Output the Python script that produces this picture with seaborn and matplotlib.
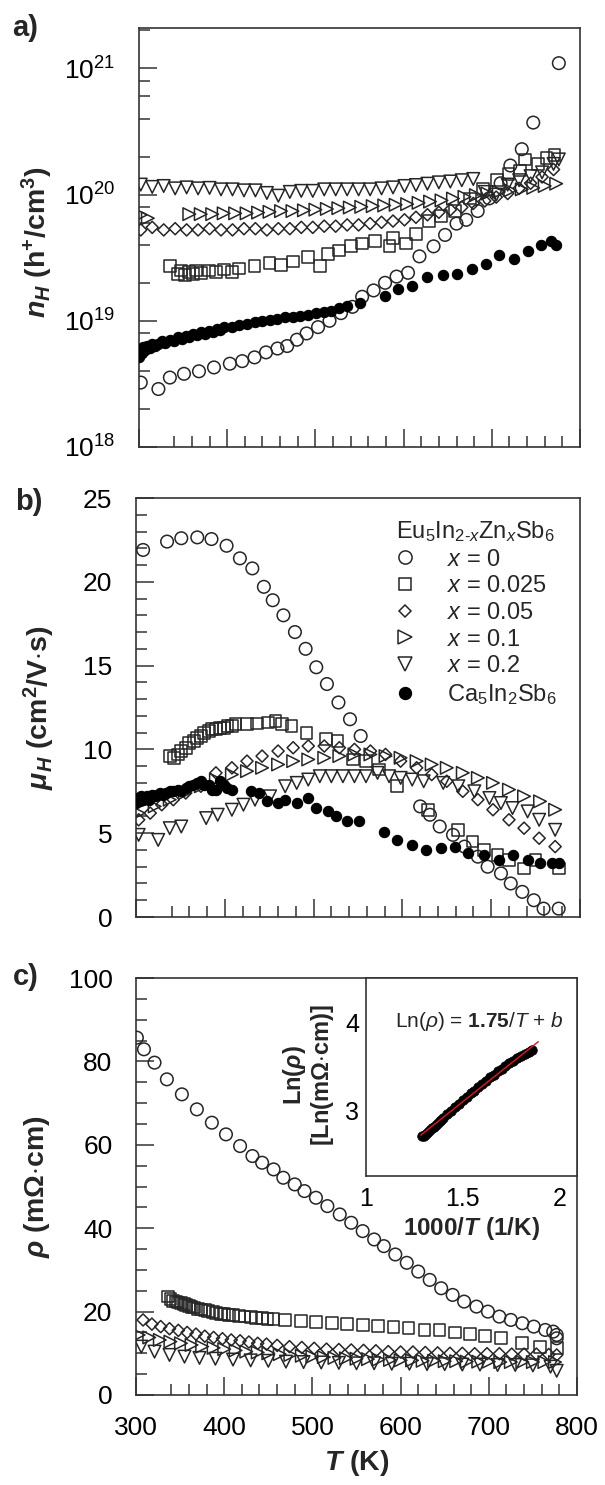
import numpy as np
import pandas as pd
import matplotlib
matplotlib.use("Agg")
import matplotlib.pyplot as plt
from matplotlib.lines import Line2D
from matplotlib.ticker import FixedLocator, LogLocator, NullFormatter, MultipleLocator, FuncFormatter
import seaborn as sns

# ---------------- data: panel a (carrier concentration, h+/cm^3) ----------------
a_T_x0 = [302, 322, 335, 351, 368, 385, 403, 417, 431, 444, 457, 468, 479, 490, 503, 516, 529, 542, 553, 566,
          579, 592, 605, 618, 634, 647, 660, 671, 684, 697, 710, 721, 734, 747, 776]
a_n_x0 = [3.24e18, 2.88e18, 3.55e18, 3.8e18, 3.98e18, 4.27e18, 4.57e18, 4.79e18, 5.13e18, 5.62e18,
          6.03e18, 6.31e18, 7.08e18, 7.94e18, 8.91e18, 1.0e19, 1.15e19, 1.29e19, 1.55e19, 1.74e19,
          2.0e19, 2.24e19, 2.4e19, 3.24e19, 3.89e19, 4.79e19, 5.89e19, 6.31e19, 7.41e19, 9.33e19,
          1.23e20, 1.7e20, 2.29e20, 3.72e20, 1.1e21]

a_T_x025 = [335, 344, 348, 352, 357, 361, 365, 370, 379, 387, 396, 405, 413, 431, 448, 461, 475, 492, 505, 514,
            527, 540, 553, 568, 584, 588, 603, 614, 629, 642, 658, 675, 690, 706, 719, 732, 738, 752, 762, 771]
a_n_x025 = [2.7e19, 2.35e19, 2.5e19, 2.3e19, 2.45e19, 2.35e19, 2.5e19, 2.4e19, 2.5e19, 2.45e19,
            2.55e19, 2.45e19, 2.6e19, 2.7e19, 2.85e19, 2.75e19, 2.95e19, 3.2e19, 2.7e19, 3.4e19,
            3.6e19, 3.9e19, 4.1e19, 4.3e19, 3.9e19, 4.5e19, 4.1e19, 4.9e19, 6.2e19, 6.8e19,
            7.4e19, 9.3e19, 1.1e20, 1.3e20, 1.45e20, 1.55e20, 1.9e20, 1.75e20, 1.95e20, 2.05e20]

a_T_x05 = [302, 315, 328, 341, 354, 367, 380, 393, 406, 419, 432, 445, 458, 471, 484, 497, 510, 523, 536, 549,
           562, 575, 588, 601, 614, 627, 640, 653, 666, 679, 692, 705, 718, 731, 744, 757, 770]
a_n_x05 = [5.25e19, 5.5e19, 5.25e19, 5.37e19, 5.25e19, 5.25e19, 5.37e19, 5.25e19, 5.25e19, 5.37e19,
           5.37e19, 5.25e19, 5.37e19, 5.37e19, 5.5e19, 5.5e19, 5.62e19, 5.62e19, 5.75e19, 5.75e19,
           5.89e19, 6.03e19, 6.17e19, 6.31e19, 6.61e19, 6.92e19, 7.24e19, 7.59e19, 7.94e19, 8.51e19,
           8.91e19, 9.55e19, 1.02e20, 1.12e20, 1.23e20, 1.38e20, 1.58e20]

a_T_x1 = [302, 310, 357, 370, 383, 396, 409, 422, 435, 448, 461, 474, 487, 500, 513, 526, 539, 552, 565, 578,
          591, 604, 617, 630, 643, 656, 669, 682, 695, 708, 721, 734, 747, 760, 773]
a_n_x1 = [6.9e19, 6.5e19, 7.0e19, 7.0e19, 7.0e19, 7.1e19, 7.1e19, 7.1e19, 7.2e19, 7.3e19,
          7.4e19, 7.4e19, 7.5e19, 7.6e19, 7.7e19, 7.8e19, 7.9e19, 8.0e19, 8.1e19, 8.2e19,
          8.3e19, 8.4e19, 8.6e19, 8.8e19, 9.0e19, 9.3e19, 9.6e19, 9.9e19, 1.02e20, 1.05e20,
          1.08e20, 1.1e20, 1.13e20, 1.17e20, 1.22e20]

a_T_x2 = [302, 315, 328, 341, 354, 367, 380, 393, 406, 419, 432, 445, 458, 471, 484, 497, 510, 523, 536, 549,
          562, 575, 588, 601, 614, 627, 640, 653, 666, 679, 692, 705, 718, 731, 744, 757, 770, 776]
a_n_x2 = [1.2e20, 1.15e20, 1.17e20, 1.12e20, 1.14e20, 1.12e20, 1.13e20, 1.1e20, 1.1e20, 1.08e20,
          1.08e20, 1.03e20, 0.98e20, 1.05e20, 1.07e20, 1.07e20, 1.1e20, 1.1e20, 1.1e20, 1.1e20,
          1.1e20, 1.12e20, 1.14e20, 1.17e20, 1.19e20, 1.22e20, 1.25e20, 1.27e20, 1.3e20, 1.33e20,
          1.05e20, 1.0e20, 1.2e20, 1.3e20, 1.4e20, 1.5e20, 1.75e20, 1.9e20]

a_T_ca = [300, 301, 303, 305, 307, 309, 312, 315, 318, 322, 326, 330, 335, 340, 344, 349, 353, 357, 361, 366,
          370, 375, 379, 384, 388, 392, 396, 405, 413, 422, 431, 440, 448, 457, 466, 475, 483, 492, 501, 510,
          518, 527, 536, 551, 579, 594, 610, 627, 645, 660, 677, 693, 708, 725, 741, 756, 767, 773]
a_n_ca = [5.2e18, 6.0e18, 5.6e18, 6.2e18, 5.9e18, 6.3e18, 6.1e18, 6.5e18, 6.3e18, 6.6e18,
          6.9e18, 6.7e18, 7.1e18, 6.9e18, 7.4e18, 7.2e18, 7.6e18, 7.5e18, 7.9e18, 7.7e18,
          8.1e18, 7.9e18, 8.3e18, 8.1e18, 8.6e18, 8.4e18, 8.9e18, 9.0e18, 9.3e18, 9.5e18,
          9.8e18, 1.0e19, 1.02e19, 1.04e19, 1.07e19, 1.08e19, 1.1e19, 1.12e19, 1.15e19, 1.17e19,
          1.2e19, 1.26e19, 1.32e19, 1.38e19, 1.58e19, 1.78e19, 1.9e19, 2.24e19, 2.3e19, 2.34e19,
          2.57e19, 2.82e19, 3.3e19, 3.1e19, 3.6e19, 4.0e19, 4.25e19, 4.0e19]

# ---------------- data: panel b (Hall mobility, cm^2/V s) ----------------
b_T_x0 = [308, 335, 351, 369, 385, 402, 417, 431, 444, 454, 466, 479, 491, 503, 515, 528, 541, 553,
          620, 631, 642, 657, 670, 685, 696, 711, 722, 735, 748, 759, 776]
b_mu_x0 = [21.9, 22.4, 22.6, 22.65, 22.55, 22.15, 21.4, 20.8, 19.7, 18.9, 18.0, 17.0, 16.0, 14.9, 13.9, 12.8,
           11.8, 10.8, 6.6, 6.1, 5.4, 4.9, 4.2, 3.6, 3.0, 2.6, 2.0, 1.5, 1.0, 0.5, 0.5]

b_T_x025 = [338, 343, 347, 351, 356, 360, 365, 369, 373, 377, 382, 386, 390, 395, 399, 403, 408, 412, 425, 436,
            449, 457, 464, 475, 492, 514, 527, 544, 559, 574, 594, 629, 663, 679, 692, 707, 720, 737, 750, 776]
b_mu_x025 = [9.6, 9.5, 9.7, 9.9, 10.1, 10.4, 10.5, 10.7, 10.8, 11.0, 11.1, 11.2, 11.2, 11.3, 11.3, 11.4, 11.4,
             11.5, 11.5, 11.55, 11.6, 11.7, 11.5, 11.4, 11.0, 10.6, 10.5, 9.4, 9.3, 8.8, 7.8, 6.4, 5.2, 4.5,
             4.0, 3.7, 3.4, 2.9, 3.4, 2.9]

b_T_x05 = [303, 316, 329, 342, 356, 373, 390, 408, 425, 442, 460, 477, 494, 512, 529, 546, 564, 581, 598, 616,
           633, 650, 668, 685, 702, 720, 737, 754, 772]
b_mu_x05 = [5.8, 6.2, 6.7, 7.0, 7.4, 7.8, 8.6, 8.9, 9.3, 9.6, 9.9, 10.1, 10.2, 10.2, 10.1, 10.0, 9.9, 9.7, 9.3,
            8.9, 8.5, 8.1, 7.5, 7.0, 6.4, 5.8, 5.3, 4.7, 4.2]

b_T_x1 = [303, 321, 338, 355, 373, 390, 408, 425, 442, 460, 477, 494, 512, 529, 546, 564, 581, 598, 616, 633,
          650, 668, 685, 702, 720, 737, 755, 772]
b_mu_x1 = [6.2, 6.6, 7.0, 7.4, 7.8, 8.2, 8.5, 8.7, 8.9, 9.1, 9.3, 9.4, 9.5, 9.6, 9.7, 9.7, 9.6, 9.5, 9.3, 9.1,
           8.9, 8.6, 8.3, 8.0, 7.6, 7.2, 6.9, 6.4]

b_T_x2 = [303, 325, 338, 351, 379, 392, 408, 421, 434, 451, 468, 481, 494, 507, 520, 533, 546, 559, 572, 585,
          598, 611, 624, 646, 663, 681, 698, 711, 724, 741, 754, 772]
b_mu_x2 = [4.9, 4.6, 5.3, 5.4, 5.9, 6.1, 6.4, 6.7, 7.0, 7.2, 7.8, 8.0, 8.2, 8.4, 8.4, 8.4, 8.4, 8.4, 8.6, 8.4,
           8.3, 8.2, 8.1, 8.0, 7.8, 7.5, 7.1, 6.8, 6.5, 6.3, 5.8, 5.2]

b_T_ca = [300, 302, 304, 306, 308, 310, 312, 315, 318, 321, 324, 327, 330, 334, 338, 342, 347, 351, 356, 360,
          364, 369, 373, 377, 382, 386, 390, 395, 399, 403, 408, 429, 438, 447, 460, 468, 481, 494, 503, 516,
          525, 538, 551, 579, 594, 611, 627, 644, 659, 674, 692, 709, 724, 742, 755, 768, 776]
b_mu_ca = [6.8, 7.1, 6.9, 7.2, 7.0, 7.1, 7.2, 7.0, 7.3, 7.2, 7.3, 7.4, 7.3, 7.4, 7.5, 7.5, 7.6, 7.5, 7.7, 7.8,
           7.9, 8.0, 8.1, 7.9, 7.9, 7.6, 7.6, 8.1, 7.9, 7.7, 7.6, 7.5, 7.4, 6.9, 6.8, 7.0, 6.8, 7.1, 6.5, 6.3,
           6.0, 5.7, 5.75, 5.1, 4.6, 4.3, 4.0, 4.1, 4.2, 3.8, 3.7, 3.4, 3.7, 3.4, 3.2, 3.2, 3.2]

# ---------------- data: panel c (resistivity, mOhm cm) ----------------
c_T_x0 = [301, 309, 321, 335, 352, 369, 386, 402, 418, 432, 443, 456, 467, 480, 491, 504, 517, 531, 544, 557,
          570, 581, 594, 607, 620, 633, 646, 659, 672, 686, 699, 712, 725, 738, 751, 764, 773, 777, 777]
c_rho_x0 = [85.7, 82.9, 79.7, 75.7, 72.1, 68.5, 65.3, 62.5, 59.7, 57.3, 55.7, 54.1, 52.1, 50.5, 48.9, 47.3,
            45.3, 43.3, 41.3, 39.3, 37.3, 35.7, 33.7, 31.7, 29.6, 27.6, 25.6, 24.0, 22.4, 21.2, 20.0, 18.8,
            18.0, 17.2, 16.4, 15.6, 15.2, 14.4, 13.6]

c_T_x025 = [336, 339, 342, 345, 348, 351, 354, 357, 360, 363, 366, 370, 374, 378, 382, 387, 391, 396, 400, 405,
            410, 417, 423, 430, 436, 443, 449, 456, 469, 487, 504, 522, 539, 557, 574, 592, 609, 627, 644, 662,
            679, 696, 714, 738, 758, 777]
c_rho_x025 = [23.6, 23.0, 22.6, 22.4, 22.2, 22.0, 21.8, 21.6, 21.4, 21.1, 21.0, 20.7, 20.5, 20.3, 20.1, 19.9,
              19.7, 19.5, 19.4, 19.2, 19.1, 18.9, 18.8, 18.7, 18.5, 18.4, 18.3, 18.2, 18.0, 17.8, 17.6, 17.2,
              17.1, 16.8, 16.6, 16.3, 16.0, 15.6, 15.5, 15.0, 14.7, 14.2, 13.6, 12.4, 11.6, 11.2]

c_T_x05 = [308, 318, 328, 338, 348, 358, 368, 378, 388, 398, 408, 418, 428, 438, 448, 460, 474, 488, 502, 516,
           530, 544, 558, 572, 586, 600, 614, 628, 642, 656, 670, 684, 698, 712, 726, 740, 754, 768, 777]
c_rho_x05 = [18.0, 17.0, 16.4, 15.9, 15.5, 15.0, 14.6, 14.1, 13.8, 13.5, 13.2, 13.0, 12.7, 12.4, 12.2, 11.9,
             11.6, 11.4, 11.2, 11.0, 10.9, 10.8, 10.7, 10.6, 10.4, 10.3, 10.3, 10.2, 10.1, 10.0, 10.0, 9.9,
             9.9, 9.9, 9.8, 9.8, 9.8, 9.7, 9.6]

c_T_x1 = [303, 315, 327, 339, 351, 363, 375, 388, 400, 413, 425, 438, 450, 463, 475, 488, 500, 513, 525, 538,
          550, 563, 575, 588, 600, 613, 625, 638, 650, 663, 675, 688, 700, 713, 725, 738, 750, 763, 775]
c_rho_x1 = [14.4, 13.8, 13.2, 12.8, 12.4, 12.0, 11.6, 11.3, 11.0, 10.7, 10.4, 10.2, 10.0, 9.8, 9.6, 9.4, 9.2,
            9.1, 8.9, 8.8, 8.7, 8.6, 8.5, 8.4, 8.3, 8.3, 8.2, 8.2, 8.1, 8.1, 8.0, 8.0, 8.0, 7.9, 7.9, 7.9,
            7.9, 7.9, 7.9]

c_T_x2 = [306, 321, 338, 355, 372, 390, 410, 430, 450, 470, 490, 510, 530, 550, 570, 590, 610, 630, 650, 670,
          690, 710, 730, 750, 770, 777]
c_rho_x2 = [11.6, 10.4, 9.6, 9.2, 8.9, 8.7, 8.5, 8.3, 8.2, 8.0, 7.9, 7.8, 7.7, 7.6, 7.6, 7.5, 7.5, 7.4, 7.4,
            7.3, 7.3, 7.2, 7.2, 7.1, 6.8, 5.8]

# ---------------- data: inset (Arrhenius plot) ----------------
inv_T = [1.29, 1.30, 1.31, 1.32, 1.33, 1.34, 1.35, 1.36, 1.37, 1.38, 1.39, 1.40, 1.42, 1.44, 1.46, 1.48, 1.50,
         1.52, 1.54, 1.56, 1.58, 1.60, 1.62, 1.64, 1.66, 1.68, 1.70, 1.72, 1.74, 1.76, 1.78, 1.80, 1.82, 1.84,
         1.86]
ln_rho = [2.70, 2.71, 2.73, 2.75, 2.77, 2.79, 2.81, 2.83, 2.85, 2.87, 2.89, 2.91, 2.95, 2.99, 3.03, 3.07, 3.11,
          3.15, 3.19, 3.22, 3.26, 3.30, 3.33, 3.37, 3.40, 3.44, 3.47, 3.50, 3.53, 3.56, 3.59, 3.61, 3.64, 3.66,
          3.68]
fit_slope = 1.75
fit_x_range = [1.283, 1.89]

legend_labels = ["$x$ = 0", "$x$ = 0.025", "$x$ = 0.05", "$x$ = 0.1", "$x$ = 0.2", "Ca$_5$In$_2$Sb$_6$"]
legend_title = "Eu$_5$In$_{2\u2010x}$Zn$_x$Sb$_6$"

# ---------------- styling ----------------
sns.set_style("white")
plt.rcParams['font.family'] = ['Liberation Sans', 'DejaVu Sans']
plt.rcParams['mathtext.fontset'] = 'custom'
plt.rcParams['mathtext.rm'] = 'Liberation Sans'
plt.rcParams['mathtext.it'] = 'Liberation Sans:italic'
plt.rcParams['mathtext.bf'] = 'Liberation Sans:bold'
try:
    plt.rcParams['mathtext.bfit'] = 'Liberation Sans:italic:bold'
except Exception:
    pass

EC = '#262626'
STY = {
    'x0':   dict(marker='o', s=82, facecolor='none', edgecolor=EC, linewidth=1.1),
    'x025': dict(marker='s', s=72, facecolor='none', edgecolor=EC, linewidth=1.1),
    'x05':  dict(marker='D', s=38, facecolor='none', edgecolor=EC, linewidth=1.1),
    'x1':   dict(marker='>', s=82, facecolor='none', edgecolor=EC, linewidth=1.1),
    'x2':   dict(marker='v', s=82, facecolor='none', edgecolor=EC, linewidth=1.1),
    'ca':   dict(marker='o', s=55, facecolor='black', edgecolor='black', linewidth=0.8),
}
LEG_MS = {'x0': 9.5, 'x025': 9, 'x05': 6.5, 'x1': 9.5, 'x2': 9.5, 'ca': 8.5}

TICK_FS = 19
LABEL_FS = 20.5

fig = plt.figure(figsize=(6.05, 14.85), dpi=100)
W, H = 605.0, 1485.0
ax_a = fig.add_axes([139/W, 1-447/H, 441/W, 419/H])
ax_b = fig.add_axes([136/W, 1-917/H, 444/W, 419/H])
ax_c = fig.add_axes([136/W, 1-1395/H, 441/W, 417/H])


def scatter(ax, x, y, key, z=3):
    sns.scatterplot(x=x, y=y, ax=ax, legend=False, zorder=z, **STY[key])


def style_axis(ax):
    for sp in ax.spines.values():
        sp.set_color('#333333')
        sp.set_linewidth(1.2)
    ax.set_xlim(300, 800)
    ax.xaxis.set_major_locator(MultipleLocator(100))
    ax.xaxis.set_minor_locator(FixedLocator([t for t in range(340, 800, 20) if t % 100 != 0]))
    ax.tick_params(which='both', direction='in', top=False, right=False, left=True, bottom=True,
                   colors='#333333', labelcolor='black', labelsize=TICK_FS, width=1.1)
    ax.tick_params(which='major', length=13)
    ax.tick_params(which='minor', length=8)
    ax.tick_params(axis='y', pad=17)
    ax.tick_params(axis='x', pad=15)
    ax.grid(False)


# ---- panel a ----
ax_a.set_yscale('log')
scatter(ax_a, a_T_x0, a_n_x0, 'x0')
scatter(ax_a, a_T_x025, a_n_x025, 'x025')
scatter(ax_a, a_T_x05, a_n_x05, 'x05')
scatter(ax_a, a_T_x1, a_n_x1, 'x1')
scatter(ax_a, a_T_x2, a_n_x2, 'x2')
scatter(ax_a, a_T_ca, a_n_ca, 'ca', z=4)
style_axis(ax_a)
ax_a.set_ylim(1e18, 10**21.32)
ax_a.yaxis.set_major_locator(LogLocator(base=10, numticks=10))
ax_a.yaxis.set_minor_locator(LogLocator(base=10, subs=[2, 4, 6, 8], numticks=10))
ax_a.yaxis.set_minor_formatter(NullFormatter())
ax_a.tick_params(labelbottom=False)
ax_a.set_xlabel("")
ax_a.set_ylabel(r"$\mathbfit{n}_{\mathbfit{H}}$ (h$^{\mathbf{+}}$/cm$^{\mathbf{3}}$)",
                fontsize=LABEL_FS, fontweight='bold')
ax_a.yaxis.set_label_coords(-0.19, 0.49)

# ---- panel b ----
scatter(ax_b, b_T_x0, b_mu_x0, 'x0')
scatter(ax_b, b_T_x025, b_mu_x025, 'x025')
scatter(ax_b, b_T_x05, b_mu_x05, 'x05')
scatter(ax_b, b_T_x1, b_mu_x1, 'x1')
scatter(ax_b, b_T_x2, b_mu_x2, 'x2')
scatter(ax_b, b_T_ca, b_mu_ca, 'ca', z=4)
style_axis(ax_b)
ax_b.set_ylim(0, 25)
ax_b.yaxis.set_major_locator(MultipleLocator(5))
ax_b.yaxis.set_minor_locator(MultipleLocator(1))
ax_b.tick_params(labelbottom=False)
ax_b.set_xlabel("")
ax_b.set_ylabel(r"$\mathbfit{\mu}_{\mathbfit{H}}$ (cm$^{\mathbf{2}}$/V$\cdot$s)",
                fontsize=LABEL_FS, fontweight='bold')
ax_b.yaxis.set_label_coords(-0.177, 0.5)

handles = []
for key in ['x0', 'x025', 'x05', 'x1', 'x2', 'ca']:
    st = STY[key]
    handles.append(Line2D([], [], linestyle='', marker=st['marker'], markersize=LEG_MS[key],
                          markerfacecolor=st['facecolor'], markeredgecolor=st['edgecolor'],
                          markeredgewidth=1.1))
leg = ax_b.legend(handles, legend_labels, title=legend_title, loc='upper left',
                  bbox_to_anchor=(0.585, 0.95), frameon=False, fontsize=17, title_fontsize=17,
                  handlelength=0.8, handletextpad=1.35, labelspacing=0.2, borderpad=0.0,
                  borderaxespad=0.0, alignment='left')

# ---- panel c ----
scatter(ax_c, c_T_x0, c_rho_x0, 'x0')
scatter(ax_c, c_T_x025, c_rho_x025, 'x025')
scatter(ax_c, c_T_x05, c_rho_x05, 'x05')
scatter(ax_c, c_T_x1, c_rho_x1, 'x1')
scatter(ax_c, c_T_x2, c_rho_x2, 'x2')
style_axis(ax_c)
ax_c.set_ylim(0, 100)
ax_c.yaxis.set_major_locator(MultipleLocator(20))
ax_c.yaxis.set_minor_locator(MultipleLocator(5))
ax_c.set_ylabel(r"$\mathbfit{\rho}$ (m$\mathbf{\Omega}$$\cdot$cm)", fontsize=LABEL_FS, fontweight='bold')
ax_c.yaxis.set_label_coords(-0.19, 0.5)
ax_c.set_xlabel(r"$\mathbfit{T}$ (K)", fontsize=LABEL_FS, fontweight='bold', labelpad=6)

# ---- inset ----
ax_in = fig.add_axes([366/W, 1-1176/H, 211/W, 198/H])
ax_in.set_facecolor('white')
sns.scatterplot(x=inv_T, y=ln_rho, ax=ax_in, legend=False, marker='o', s=48,
                color='black', edgecolor='black', linewidth=0.5, zorder=3)
fx = np.array(fit_x_range)
b_int = np.mean(ln_rho) - fit_slope * np.mean(inv_T)
sns.lineplot(x=fx, y=fit_slope * fx + b_int, ax=ax_in, color='#e8141c', linewidth=1.0, zorder=4)
for sp in ax_in.spines.values():
    sp.set_color('#333333')
    sp.set_linewidth(1.2)
ax_in.set_xlim(1.0, 2.09)
ax_in.set_ylim(2.25, 4.5)
ax_in.xaxis.set_major_locator(FixedLocator([1.0, 1.5, 2.0]))
ax_in.xaxis.set_minor_locator(FixedLocator([1.1, 1.2, 1.3, 1.4, 1.6, 1.7, 1.8, 1.9]))
ax_in.yaxis.set_major_locator(FixedLocator([3.0, 4.0]))
ax_in.yaxis.set_minor_locator(FixedLocator([2.6, 2.8, 3.2, 3.4, 3.6, 3.8, 4.2]))
ax_in.xaxis.set_major_formatter(FuncFormatter(lambda v, p: f"{v:g}"))
ax_in.yaxis.set_major_formatter(FuncFormatter(lambda v, p: f"{v:g}"))
ax_in.tick_params(which='both', direction='in', top=False, right=False, colors='#333333',
                  labelcolor='black', labelsize=18, width=1.1)
ax_in.tick_params(which='major', length=13)
ax_in.tick_params(which='minor', length=8)
ax_in.tick_params(axis='y', pad=5)
ax_in.tick_params(axis='x', pad=8)
ax_in.grid(False)
ax_in.set_xlabel(r"1000/$\mathbfit{T}$ (1/K)", fontsize=17.5, fontweight='bold', labelpad=3)
ax_in.set_ylabel("Ln($\\mathbfit{\\rho}$)\n[Ln(m$\\mathbf{\\Omega}$$\\cdot$cm)]", fontsize=17,
                 fontweight='bold', linespacing=1.05)
ax_in.yaxis.set_label_coords(-0.14, 0.51)
ax_in.text(0.137, 0.778, r"Ln($\rho$) = $\mathbf{1.75}$/$T$ + $b$", transform=ax_in.transAxes,
           fontsize=15, ha='left', va='center')

# ---- panel letters ----
fig.text(12/W, 1-28/H, "a)", fontsize=21, fontweight='bold', ha='left', va='center')
fig.text(15/W, 1-502/H, "b)", fontsize=21, fontweight='bold', ha='left', va='center')
fig.text(13/W, 1-977/H, "c)", fontsize=21, fontweight='bold', ha='left', va='center')

fig.savefig("out.png", dpi=100)
